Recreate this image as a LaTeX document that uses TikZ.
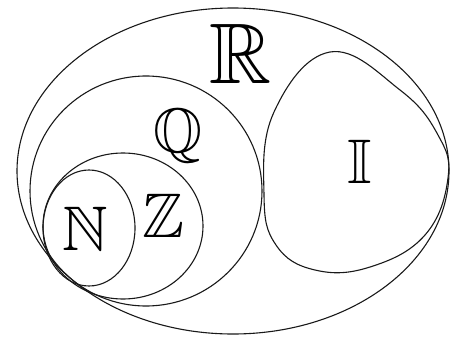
\documentclass[tikz,border=0pt]{standalone}
\usepackage{amssymb}
\begin{document}
\begin{tikzpicture}[x=1pt,y=-1pt,
  setline/.style={line width=1.1pt, black!90},
  lbl/.style={anchor=base, inner sep=0pt}]
\useasboundingbox (0,0) rectangle (457,337);
% outer R
\draw[setline] (233,171) ellipse [x radius=216, y radius=163];
% Q
\draw[setline] (146,191) ellipse [x radius=116, y radius=115];
% Z
\draw[setline] (123,226) ellipse [x radius=80, y radius=73];
% N
\draw[setline] (89,228) ellipse [x radius=46, y radius=58];
% I
\draw[setline] plot[smooth cycle, tension=0.7] coordinates
  {(264,195) (274,112) (330,52) (400,90) (438,135) (448,178) (425,235) (370,267) (315,270) (276,245)};
\node[lbl, scale=6.3] (n) at (85,250) {$\mathbb{N}$};
\node[lbl, scale=6.3] (z) at (163,237) {$\mathbb{Z}$};
\node[lbl, scale=6.3] (q) at (178,152) {$\mathbb{Q}$};
\node[lbl, scale=8.6] (r) at (241,83) {$\mathbb{R}$};
\node[lbl, scale=6.3] (i) at (360,183) {$\mathbb{I}$};
\end{tikzpicture}
\end{document}
